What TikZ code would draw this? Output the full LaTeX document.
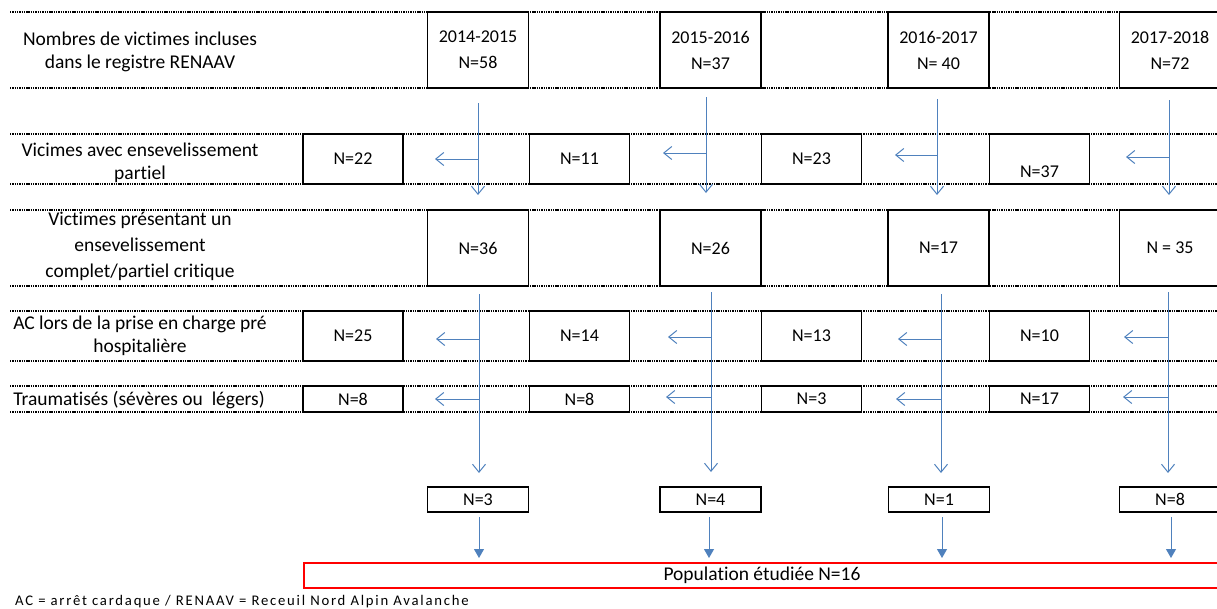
\documentclass[tikz,border=0pt]{standalone}
\usepackage{fontspec}
\setmainfont{Carlito}[Ligatures=NoCommon]
\newfontfamily\notefont[LetterSpace=12,Ligatures=NoCommon]{Carlito}
\usetikzlibrary{arrows.meta}
\definecolor{arrowblue}{RGB}{79,129,189}
\definecolor{boxred}{RGB}{255,0,0}
\begin{document}
\begin{tikzpicture}[x=1pt,y=-1pt,
  every node/.style={font=\fontsize{18}{23}\selectfont, inner sep=0pt},
  rowline/.style={line width=1.1pt, dash pattern=on 1.4pt off 0.9pt},
  boxbase/.style={draw, line width=1.6pt, fill=white, align=center},
  abox/.style={boxbase, minimum width=101pt, minimum height=76pt},
  bbox/.style={boxbase, minimum width=100pt, minimum height=50pt},
  tbox/.style={boxbase, minimum width=100pt, minimum height=26pt},
  fbox/.style={boxbase, minimum width=101pt, minimum height=25pt},
  rowlabel/.style={align=center, font=\fontsize{19.5}{23}\selectfont},
  flow/.style={draw=arrowblue, line width=1pt, -{Straight Barb[length=8pt,width=13pt]}},
  flowfill/.style={draw=arrowblue, line width=1pt, -{Triangle[length=9pt,width=10pt]}},
  redbox/.style={draw=boxred, line width=1.8pt, minimum width=930pt, minimum height=25pt, anchor=west}
]
\path[use as bounding box, clip] (0,0) rectangle (1217,608);

% dotted row lines
\foreach \y in {12,88,134,184,210,286,311,361,386,412}
  \draw[rowline] (10,\y) -- (1230,\y);

% row labels
\node[rowlabel] (l1) at (140,52) {Nombres de victimes incluses\\dans le registre RENAAV};
\node[rowlabel] (l2) at (140,163) {Vicimes avec ensevelissement\\partiel};
\node[rowlabel, font=\fontsize{19.5}{26}\selectfont] (l3) at (140,246) {Victimes présentant un\\ensevelissement\\complet/partiel critique};
\node[rowlabel] (l4) at (140,336) {AC lors de la prise en charge pré\\hospitalière};
\node[rowlabel] (l5) at (139,400) {Traumatisés (sévères ou \ légers)};

% row 1
\node[abox, font=\fontsize{18}{26}\selectfont] (a1) at (478,50) {2014-2015\\N=58};
\node[abox, font=\fontsize{18}{26}\selectfont] (a2) at (710.5,50) {2015-2016\\N=37};
\node[abox, font=\fontsize{18}{26}\selectfont] (a3) at (938.5,50) {2016-2017\\N= 40};
\node[abox, font=\fontsize{18}{26}\selectfont] (a4) at (1170,50) {2017-2018\\N=72};

% row 2
\node[bbox] (b1) at (353,159) {N=22};
\node[bbox] (b2) at (579.5,159) {N=11};
\node[bbox] (b3) at (811.5,159) {N=23};
\node[bbox] (b4) at (1039.5,159) {};
\node (b4t) at (1039.5,172) {N=37};

% row 3
\node[abox] (c1) at (478,248) {N=36};
\node[abox] (c2) at (710.5,248) {N=26};
\node[abox] (c3) at (938.5,248) {N=17};
\node[abox] (c4) at (1170,248) {N = 35};

% row 4
\node[bbox] (d1) at (353,336) {N=25};
\node[bbox] (d2) at (579.5,336) {N=14};
\node[bbox] (d3) at (811.5,336) {N=13};
\node[bbox] (d4) at (1039.5,336) {N=10};

% row 5
\node[tbox] (e1) at (353,399) {N=8};
\node[tbox] (e2) at (579.5,399) {N=8};
\node[tbox] (e3) at (811.5,399) {N=3};
\node[tbox] (e4) at (1039.5,399) {N=17};

% row 6
\node[fbox] (f1) at (478,499.5) {N=3};
\node[fbox] (f2) at (710.5,499.5) {N=4};
\node[fbox] (f3) at (939,499.5) {N=1};
\node[fbox] (f4) at (1170,499.5) {N=8};

% final box
\node[redbox] (pop) at (303,575.5) {};
\node[font=\fontsize{19.5}{23}\selectfont] (popt) at (762,575.5) {Population étudiée N=16};

% footnote
\node[anchor=west, font=\notefont\fontsize{14.7}{16}\selectfont] (note) at (15,602) {AC = arrêt cardaque / RENAAV = Receuil Nord Alpin Avalanche};

% first-stage arrows
\coordinate (s1) at (478,103); \coordinate (t1) at (478,195); \coordinate (j1) at (478,159); \coordinate (h1) at (435,159);
\coordinate (s2) at (706,97);  \coordinate (t2) at (706,193); \coordinate (j2) at (706,153); \coordinate (h2) at (663,153);
\coordinate (s3) at (937,99);  \coordinate (t3) at (937,195); \coordinate (j3) at (937,155); \coordinate (h3) at (895,155);
\coordinate (s4) at (1169,100);\coordinate (t4) at (1169,195);\coordinate (j4) at (1169,157);\coordinate (h4) at (1126,157);
\foreach \i in {1,2,3,4}{
  \draw[flow] (s\i) -- (t\i);
  \draw[flow] (j\i) -- (h\i);
}

% second-stage arrows
\coordinate (u1) at (479,294); \coordinate (w1) at (479,473);
\coordinate (p1) at (479,339); \coordinate (q1) at (436,339);
\coordinate (m1) at (479,399); \coordinate (n1) at (435,399);
\coordinate (u2) at (711,292); \coordinate (w2) at (711,472);
\coordinate (p2) at (711,337); \coordinate (q2) at (668,337);
\coordinate (m2) at (711,397); \coordinate (n2) at (666,397);
\coordinate (u3) at (941,294); \coordinate (w3) at (941,473);
\coordinate (p3) at (941,339); \coordinate (q3) at (898,339);
\coordinate (m3) at (941,399); \coordinate (n3) at (896,399);
\coordinate (u4) at (1168,292);\coordinate (w4) at (1168,473);
\coordinate (p4) at (1168,337);\coordinate (q4) at (1124,337);
\coordinate (m4) at (1168,397);\coordinate (n4) at (1123,397);
\foreach \i in {1,2,3,4}{
  \draw[flow] (u\i) -- (w\i);
  \draw[flow] (p\i) -- (q\i);
  \draw[flow] (m\i) -- (n\i);
}

% to final population
\coordinate (g1) at (479,517); \coordinate (k1) at (479,558);
\coordinate (g2) at (709,517); \coordinate (k2) at (709,558);
\coordinate (g3) at (942,517); \coordinate (k3) at (942,558);
\coordinate (g4) at (1171,517);\coordinate (k4) at (1171,558);
\foreach \i in {1,2,3,4}
  \draw[flowfill] (g\i) -- (k\i);
\end{tikzpicture}
\end{document}
